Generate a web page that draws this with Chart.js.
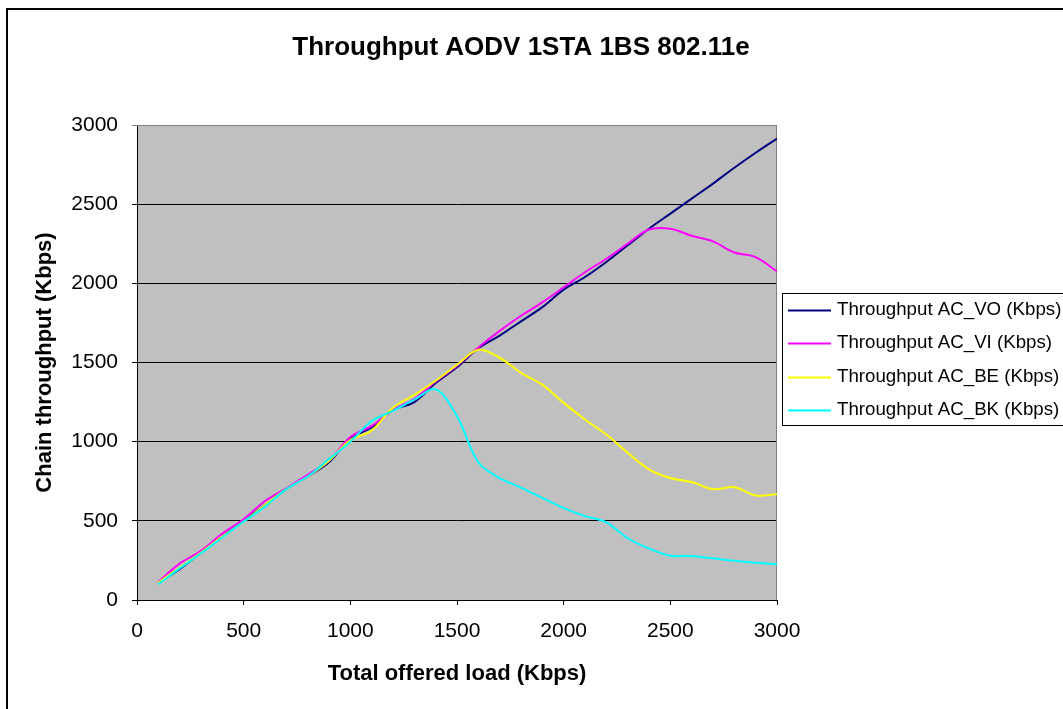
<!DOCTYPE html>
<html>
<head>
<meta charset="utf-8">
<title>Throughput AODV 1STA 1BS 802.11e</title>
<script src="https://cdn.jsdelivr.net/npm/chart.js@4.4.0/dist/chart.umd.min.js"></script>
<style>
  body { margin: 0; background: #fff; }
  #wrap { width: 1063px; height: 709px; }
</style>
</head>
<body>
<div id="wrap"><canvas id="chart"></canvas></div>
<script>
// offered load (Kbps) on the x axis
const offeredLoad = [100, 200, 300, 400, 500, 600, 700, 800, 900, 1000,
  1100, 1200, 1300, 1400, 1500, 1600, 1700, 1800, 1900, 2000,
  2100, 2200, 2300, 2400, 2500, 2600, 2700, 2800, 2900, 3000];

// throughput per access category (Kbps)
const acVO = [110, 195, 300, 400, 500, 600, 700, 780, 870, 1020,
  1090, 1200, 1250, 1370, 1470, 1590, 1670, 1760, 1850, 1960,
  2040, 2135, 2240, 2345, 2440, 2535, 2630, 2730, 2825, 2915];
const acVI = [115, 230, 310, 420, 510, 625, 705, 790, 880, 1030,
  1100, 1200, 1270, 1380, 1480, 1595, 1700, 1795, 1880, 1975,
  2070, 2155, 2250, 2340, 2345, 2300, 2265, 2195, 2165, 2075];
const acBE = [110, 205, 300, 400, 495, 600, 700, 780, 880, 1010,
  1070, 1215, 1295, 1385, 1485, 1580, 1530, 1435, 1360, 1245,
  1140, 1045, 930, 825, 770, 745, 700, 712, 660, 668];
const acBK = [100, 200, 295, 395, 495, 590, 700, 780, 890, 1000,
  1130, 1195, 1265, 1330, 1160, 870, 770, 710, 645, 580,
  530, 490, 390, 325, 280, 278, 263, 248, 236, 226];

const seriesLabels = ['Throughput AC_VO (Kbps)', 'Throughput AC_VI (Kbps)',
  'Throughput AC_BE (Kbps)', 'Throughput AC_BK (Kbps)'];
const seriesColors = ['#000080', '#ff00ff', '#ffff00', '#00ffff'];
const xTicks = [0, 500, 1000, 1500, 2000, 2500, 3000];
const yTicks = [0, 500, 1000, 1500, 2000, 2500, 3000];

const FONT = '"Liberation Sans", Arial, sans-serif';

function points(values) {
  return offeredLoad.map((x, i) => ({ x: x, y: values[i] }));
}

// grey plot area, outer frame and the boxed legend on the right
const frame = {
  id: 'frame',
  beforeDraw(chart) {
    const { ctx, chartArea: a } = chart;
    ctx.save();
    ctx.fillStyle = '#c0c0c0';
    ctx.fillRect(a.left, a.top, a.right - a.left, a.bottom - a.top);
    ctx.restore();
  },
  beforeDatasetsDraw(chart) {
    const { ctx, chartArea: a } = chart;
    ctx.save();
    ctx.strokeStyle = '#808080';
    ctx.lineWidth = 1;
    ctx.beginPath();
    ctx.moveTo(a.left, a.top + 0.5);
    ctx.lineTo(a.right - 0.5, a.top + 0.5);
    ctx.lineTo(a.right - 0.5, a.bottom);
    ctx.stroke();
    ctx.restore();
  },
  afterDraw(chart) {
    const ctx = chart.ctx;
    ctx.save();
    ctx.strokeStyle = '#000';
    ctx.lineWidth = 2;
    ctx.strokeRect(7, 9, 1100, 800);

    // legend
    ctx.lineWidth = 1;
    ctx.strokeStyle = '#000';
    ctx.fillStyle = '#fff';
    ctx.fillRect(782, 293, 300, 133);
    ctx.strokeRect(782.5, 293.5, 300, 132);
    ctx.font = '18.7px ' + FONT;
    ctx.textBaseline = 'middle';
    ctx.textAlign = 'left';
    chart.data.datasets.forEach((ds, i) => {
      const y = 310 + i * 33.3;
      ctx.strokeStyle = ds.borderColor;
      ctx.lineWidth = 2;
      ctx.beginPath();
      ctx.moveTo(788, Math.round(y) + 0.5);
      ctx.lineTo(831, Math.round(y) + 0.5);
      ctx.stroke();
      ctx.fillStyle = '#000';
      ctx.fillText(ds.label, 837, y);
    });
    ctx.restore();
  }
};

const datasets = [acVO, acVI, acBE, acBK].map((vals, i) => ({
  label: seriesLabels[i],
  data: points(vals),
  borderColor: seriesColors[i],
  backgroundColor: seriesColors[i],
  borderWidth: 2,
  pointRadius: 0,
  tension: 0.35,
  fill: false,
  order: 4 - i
}));

const plain = v => String(v);

new Chart(document.getElementById('chart'), {
  type: 'line',
  data: { datasets: datasets },
  plugins: [frame],
  options: {
    responsive: true,
    maintainAspectRatio: false,
    animation: false,
    layout: { padding: { left: 0, right: 21, top: 0, bottom: 0 } },
    plugins: {
      legend: { display: false },
      tooltip: { enabled: false },
      title: {
        display: true,
        text: 'Throughput AODV 1STA 1BS 802.11e',
        color: '#000',
        font: { family: FONT, size: 26, weight: 'bold' },
        padding: { top: 32, bottom: 61.8 }
      }
    },
    scales: {
      x: {
        type: 'linear',
        min: 0,
        max: 3000,
        afterBuildTicks(s) { s.ticks = xTicks.map(v => ({ value: v })); },
        afterFit(s) { s.height = 109; },
        grid: { drawOnChartArea: false, drawTicks: true, tickLength: 5, color: '#000' },
        border: { color: '#000', width: 1 },
        ticks: { color: '#000', padding: 14, font: { family: FONT, size: 21 }, callback: plain },
        title: {
          display: true,
          text: 'Total offered load (Kbps)',
          color: '#000',
          font: { family: FONT, size: 22, weight: 'bold' },
          padding: { top: 0, bottom: 22 }
        }
      },
      y: {
        type: 'linear',
        min: 0,
        max: 3000,
        afterBuildTicks(s) { s.ticks = yTicks.map(v => ({ value: v })); },
        afterFit(s) { s.width = 137; },
        grid: {
          drawTicks: true,
          tickLength: 5,
          color: c => (c.tick && c.tick.value === 3000 ? '#808080' : '#000')
        },
        border: { color: '#000', width: 1 },
        ticks: { color: '#000', padding: 14, font: { family: FONT, size: 21 }, callback: plain },
        title: {
          display: true,
          text: 'Chain throughput (Kbps)',
          color: '#000',
          font: { family: FONT, size: 22, weight: 'bold' },
          padding: { top: 32, bottom: 0 }
        }
      },
      side: {
        type: 'linear',
        position: 'right',
        display: true,
        grid: { display: false },
        border: { display: false },
        ticks: { display: false },
        afterFit(s) { s.width = 265; }
      }
    }
  }
});
</script>
</body>
</html>
